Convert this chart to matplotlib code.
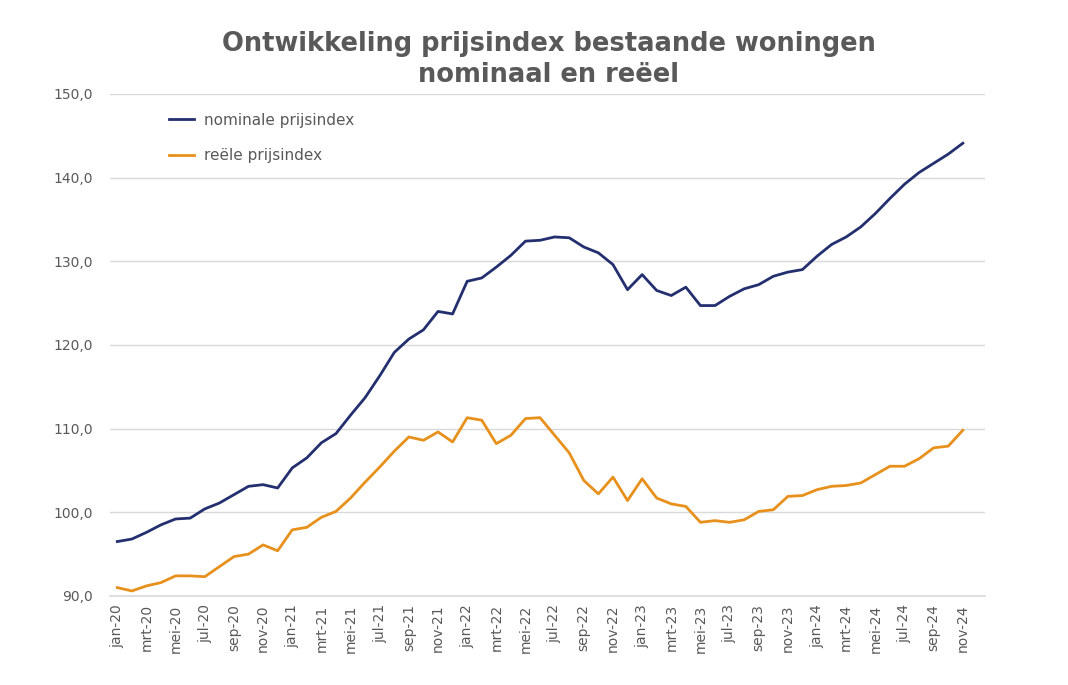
import matplotlib.pyplot as plt
from matplotlib.ticker import FuncFormatter

# month labels (Dutch abbreviations), jan-20 .. nov-24
months = ["jan", "feb", "mrt", "apr", "mei", "jun", "jul", "aug", "sep", "okt", "nov", "dec"]
labels = [f"{m}-{y}" for y in ["20", "21", "22", "23", "24"] for m in months][:59]

nominaal = [
    96.5, 96.8, 97.6, 98.5, 99.2, 99.3, 100.4, 101.1, 102.1, 103.1, 103.3, 102.9,
    105.3, 106.5, 108.3, 109.4, 111.6, 113.7, 116.3, 119.1, 120.7, 121.8, 124.0, 123.7,
    127.6, 128.0, 129.3, 130.7, 132.4, 132.5, 132.9, 132.8, 131.7, 131.0, 129.6, 126.6,
    128.4, 126.5, 125.9, 126.9, 124.7, 124.7, 125.8, 126.7, 127.2, 128.2, 128.7, 129.0,
    130.6, 132.0, 132.9, 134.1, 135.7, 137.5, 139.2, 140.6, 141.7, 142.8, 144.1,
]
reeel = [
    91.0, 90.6, 91.2, 91.6, 92.4, 92.4, 92.3, 93.5, 94.7, 95.0, 96.1, 95.4,
    97.9, 98.2, 99.4, 100.1, 101.7, 103.6, 105.4, 107.3, 109.0, 108.6, 109.6, 108.4,
    111.3, 111.0, 108.2, 109.2, 111.2, 111.3, 109.2, 107.1, 103.8, 102.2, 104.2, 101.4,
    104.0, 101.7, 101.0, 100.7, 98.8, 99.0, 98.8, 99.1, 100.1, 100.3, 101.9, 102.0,
    102.7, 103.1, 103.2, 103.5, 104.5, 105.5, 105.5, 106.4, 107.7, 107.9, 109.8,
]

text_color = "#595959"
x = list(range(len(labels)))

fig = plt.figure(figsize=(10.68, 6.85), dpi=100)
ax = fig.add_axes([0.103, 0.130, 0.819, 0.733])

ax.plot(x, nominaal, color="#232F6E", lw=2.0, label="nominale prijsindex", solid_joinstyle="round")
ax.plot(x, reeel, color="#E8901C", lw=2.0, label="reële prijsindex", solid_joinstyle="round")

ax.set_xlim(-0.5, 59.5)
ax.set_ylim(90, 150)
ax.set_yticks(range(90, 151, 10))
ax.yaxis.set_major_formatter(FuncFormatter(lambda v, p: f"{v:.1f}".replace(".", ",")))
ax.set_xticks(x[::2])
ax.set_xticklabels(labels[::2], rotation=90)

ax.grid(axis="y", color="#D9D9D9", lw=1)
ax.set_axisbelow(True)
for s in ax.spines.values():
    s.set_visible(False)
ax.axhline(90, color="#D9D9D9", lw=1.2, zorder=0, clip_on=False)
ax.tick_params(length=0, colors=text_color, labelsize=10)
ax.tick_params(axis="y", pad=12)
ax.tick_params(axis="x", pad=6)

leg = ax.legend(loc="upper left", bbox_to_anchor=(0.052, 0.99), frameon=False,
                fontsize=11, labelspacing=1.35, handlelength=1.6, handletextpad=0.7)
for t in leg.get_texts():
    t.set_color(text_color)

fig.text(0.514, 0.913, "Ontwikkeling prijsindex bestaande woningen\nnominaal en reëel",
         ha="center", va="center", fontsize=18.5, fontweight="bold", color=text_color,
         linespacing=1.25)

fig.savefig("out.png", dpi=100)
